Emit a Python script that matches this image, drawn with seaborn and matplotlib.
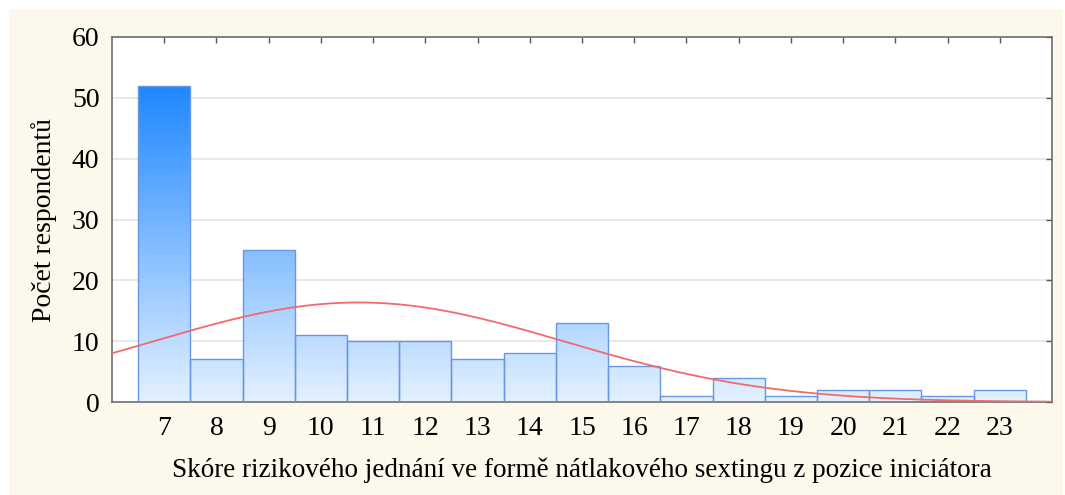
import numpy as np
import pandas as pd
import matplotlib
matplotlib.use("Agg")
import matplotlib.pyplot as plt
import seaborn as sns
from matplotlib.colors import LinearSegmentedColormap
from matplotlib.patches import Rectangle

scores = [7, 8, 9, 10, 11, 12, 13, 14, 15, 16, 17, 18, 19, 20, 21, 22, 23]
counts = [52, 7, 25, 11, 10, 10, 7, 8, 13, 6, 1, 4, 1, 2, 2, 1, 2]
x_ticks = scores
y_ticks = [0, 10, 20, 30, 40, 50, 60]
x_label = "Skóre rizikového jednání ve formě nátlakového sextingu z pozice iniciátora"
y_label = "Počet respondentů"

df = pd.DataFrame({"score": scores, "count": counts})

sns.set_theme(style="white")
plt.rcParams["font.family"] = ["Liberation Serif", "DejaVu Serif"]

W, H = 1065, 495
fig = plt.figure(figsize=(W / 100, H / 100), dpi=100, facecolor="white")
fig.patches.append(Rectangle((9 / W, 0), 1 - 11 / W, 1 - 9 / H, transform=fig.transFigure,
                             facecolor="#FDF8EC", edgecolor="none", zorder=-10))
ax = fig.add_axes([112 / W, 1 - 402 / H, (1052 - 112) / W, (402 - 37) / H])
ax.set_facecolor("white")

sns.histplot(data=df, x="score", weights="count", discrete=True, ax=ax,
             stat="count", fill=True, element="bars",
             facecolor="none", edgecolor="#6A96E6", linewidth=1.0, zorder=3)

# gradient fill clipped to each bar
cmap = LinearSegmentedColormap.from_list("g", ["#E4F1FF", "#1E87FF"])
ymax = max(counts)
grad = np.linspace(0, 1, 256).reshape(-1, 1)
for p in ax.patches:
    im = ax.imshow(grad, cmap=cmap, aspect="auto", origin="lower",
                   extent=[6, 24, 0, ymax], zorder=2, interpolation="bilinear")
    im.set_clip_path(p)

# fitted normal curve
vals = np.repeat(scores, counts)
mu, sd = vals.mean(), vals.std()
xs = np.linspace(6, 24, 400)
ys = len(vals) * 1.0 * np.exp(-(xs - mu) ** 2 / (2 * sd ** 2)) / (sd * np.sqrt(2 * np.pi))
ax.plot(xs, ys, color="#F06A6E", lw=1.3, zorder=4)

ax.set_xlim(6, 24)
ax.set_ylim(0, 60)
ax.set_xticks(x_ticks)
ax.set_yticks(y_ticks)
ax.yaxis.grid(True, color="#E4E4E4", lw=1.2, zorder=0)
ax.set_axisbelow(True)
ax.tick_params(axis="both", which="both", direction="in", length=4, width=1,
               color="#555555", top=True, right=True, labelsize=20, labelcolor="black")
ax.tick_params(axis="x", pad=10)
ax.tick_params(axis="y", pad=9)
for s in ax.spines.values():
    s.set_color("#6E6E6E")
    s.set_linewidth(1.2)

ax.set_xlabel(x_label, fontsize=19.5, color="black", labelpad=12)
ax.set_ylabel(y_label, fontsize=20, color="black", labelpad=11)

fig.savefig("out.png", dpi=100, facecolor=fig.get_facecolor())
